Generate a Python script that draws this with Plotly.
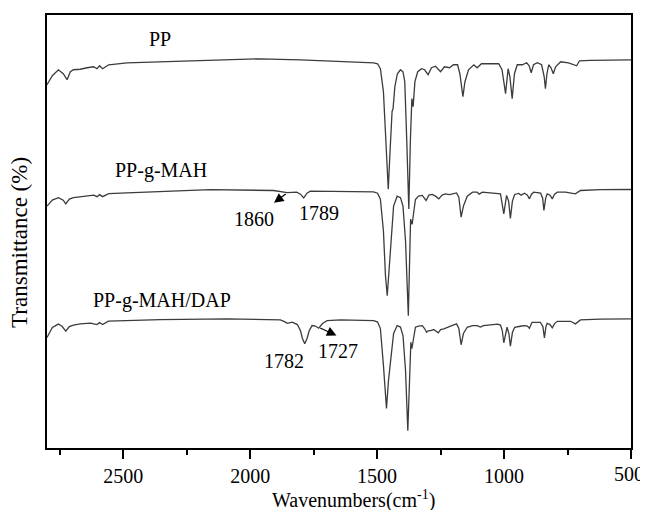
import plotly.graph_objects as go

# ---- data (x: wavenumber cm^-1, y: offset transmittance, arbitrary units) ----
pp_wn = [2800, 2779, 2755, 2736, 2721, 2708, 2696, 2669, 2642, 2616, 2603, 2593, 2581, 2557, 2485,
         2354, 2091, 1960, 1802, 1697, 1566, 1513, 1498, 1487, 1475, 1465, 1456, 1449, 1441, 1437,
         1430, 1420, 1408, 1398, 1391, 1383, 1375, 1369, 1363, 1358, 1351, 1340, 1325, 1313, 1299,
         1286, 1270, 1250, 1235, 1215, 1199, 1183, 1174, 1162, 1154, 1140, 1119, 1106, 1089, 1053,
         1021, 1008, 994, 984, 977, 968, 959, 948, 928, 911, 901, 893, 884, 869, 852, 842, 837, 831,
         824, 815, 806, 797, 777, 746, 726, 714, 703, 660, 500]
pp_t = [365, 374, 380, 376, 370, 378, 380, 380.5, 382, 383, 381, 384, 381, 385, 387,
        388, 390, 391, 390, 389, 387, 387, 386, 381, 358, 298, 260, 298, 338, 341,
        363, 376, 380, 378, 368, 308, 240, 308, 351, 343, 368, 378, 381, 380, 375,
        382, 383.5, 378, 383, 382, 385, 385, 376, 353, 368, 380, 385, 382, 386, 386,
        386, 380, 356, 381, 373, 351, 376, 385, 385, 387, 384, 377, 385, 387, 385, 373, 361, 376,
        385, 382, 376, 383, 388, 387, 385, 384, 389, 389.5, 390]

mah_wn = [2800, 2779, 2755, 2736, 2726, 2712, 2696, 2642, 2616, 2603, 2593, 2581, 2557, 2485, 2354,
          2157, 1908, 1854, 1817, 1802, 1789, 1776, 1763, 1644, 1514, 1498, 1487, 1475, 1467, 1460,
          1453, 1443, 1435, 1421, 1408, 1398, 1388, 1377, 1370, 1368, 1362, 1356, 1349, 1337, 1322,
          1307, 1296, 1283, 1270, 1257, 1244, 1231, 1215, 1187, 1178, 1169, 1160, 1145, 1124, 1106,
          1098, 1085, 1014, 1001, 990, 982, 975, 967, 958, 942, 933, 919, 908, 900, 892, 883, 856,
          848, 843, 836, 830, 819, 810, 801, 790, 758, 731, 719, 699, 621, 500]
mah_t = [243, 249, 251.5, 249, 245.3, 250, 251.5, 253, 254, 252.5, 254.5, 252.5, 255.5, 256.3, 257.5,
         259.5, 258.7, 256.5, 257, 255, 251.3, 256, 258, 257.7, 257.3, 256, 250, 218, 173, 153,
         178, 221.3, 243, 253, 251.5, 243, 208, 133, 198, 230, 224.7, 238, 249.7, 253, 253.7,
         248.7, 254, 254.7, 253, 250.3, 254, 255.3, 254.5, 256.3, 252, 232, 243, 253, 257, 257,
         255, 257, 255.3, 235.3, 253.7, 248, 230.7, 248, 254.7, 255.7, 254, 256, 254, 250.3, 255, 257, 256,
         251, 238.7, 251, 255.3, 254, 250.3, 255, 257, 257, 256, 255.3, 258.7, 259.5, 259.7]

dap_wn = [2800, 2779, 2755, 2740, 2726, 2712, 2696, 2669, 2629, 2603, 2593, 2581, 2558, 2484, 2354,
          2090, 1960, 1881, 1865, 1853, 1834, 1814, 1802, 1794, 1785, 1776, 1767, 1756, 1743, 1730,
          1715, 1697, 1644, 1566, 1513, 1498, 1487, 1475, 1463, 1455, 1443, 1435, 1421, 1408, 1398,
          1388, 1379, 1371, 1367, 1363, 1356, 1349, 1337, 1322, 1313, 1305, 1297, 1289, 1277, 1268,
          1259, 1250, 1237, 1211, 1187, 1178, 1169, 1160, 1145, 1124, 1106, 1093, 1081, 1053, 1026,
          1014, 1007, 1001, 994, 988, 981, 975, 967, 958, 936, 920, 908, 900, 890, 857, 847, 841, 835,
          830, 819, 810, 801, 790, 738, 719, 699, 621, 500]
dap_t = [111, 121, 124.5, 122, 117.3, 122, 123.5, 124.7, 125.5, 124, 126, 124, 127.5, 128, 129,
         129.7, 129.5, 128.7, 127, 125.3, 126.5, 124, 118, 110, 104.7, 110, 118, 123, 122.5, 120.3,
         125, 128, 128.7, 128.5, 128, 126.5, 120, 83, 39.7, 68, 98, 115, 123, 121.5, 113,
         78, 17.3, 78, 106.3, 99.7, 113, 121.3, 122.5, 123, 120, 116.3, 118, 118, 119, 117,
         115.7, 119, 119.7, 122.5, 124.7, 120, 103.7, 115, 121.3, 123, 123, 121.5, 123, 123.7, 124.5,
         123.5, 118, 105.7, 116, 121.3, 115, 102.3, 116, 121.3, 122.3, 123, 122.5, 120.3, 126.3, 126.3, 122, 110.7, 122,
         125.3, 124, 120.7, 125, 127.3, 127.3, 124.7, 128.7, 129.5, 129.7]

series_names = ["PP", "PP-g-MAH", "PP-g-MAH/DAP"]
name_pos_wn = [2354, 2350, 2347]
name_pos_t = [411, 279, 148.5]

peak_labels = ["1860", "1789", "1782", "1727"]
peak_label_wn = [1983, 1727, 1865, 1654]
peak_label_t = [230.5, 236, 87, 97]

# arrows: tail on the curve, head towards the label
arrow_tail_wn = [1854, 1730]
arrow_tail_t = [256.3, 121.3]
arrow_head_wn = [1906, 1660]
arrow_head_t = [246.3, 113]

x_ticks = [2500, 2000, 1500, 1000, 500]
x_tick_text = ["2500", "2000", "1500", "1000", "500"]
x_title = "Wavenumbers(cm<sup>-1</sup>)"
y_title = "Transmittance (%)"

FONT = "Liberation Serif, Times New Roman, serif"
LINE = "#3c3c3c"

fig = go.Figure()
for wn, t in [(pp_wn, pp_t), (mah_wn, mah_t), (dap_wn, dap_t)]:
    fig.add_trace(go.Scatter(x=wn, y=t, mode="lines",
                             line=dict(color=LINE, width=1.3), showlegend=False,
                             hoverinfo="skip"))

# the edge label (500) is drawn as an annotation so that it stays inside the page
edge_tick = x_ticks[-1]
axis_tick_text = [t if v != edge_tick else "" for v, t in zip(x_ticks, x_tick_text)]

anns = []
for name, x, y in zip(series_names, name_pos_wn, name_pos_t):
    anns.append(dict(x=x, y=y, xref="x", yref="y", text=name, showarrow=False,
                     font=dict(family=FONT, size=20, color="black")))
for lab, x, y in zip(peak_labels, peak_label_wn, peak_label_t):
    anns.append(dict(x=x, y=y, xref="x", yref="y", text=lab, showarrow=False,
                     font=dict(family=FONT, size=20, color="black")))
for tx, ty, hx, hy in zip(arrow_tail_wn, arrow_tail_t, arrow_head_wn, arrow_head_t):
    anns.append(dict(x=hx, y=hy, ax=tx, ay=ty, xref="x", yref="y", axref="x", ayref="y",
                     text="", showarrow=True, arrowhead=2, arrowsize=1.6, arrowwidth=1.2,
                     arrowcolor="black"))
anns.append(dict(x=edge_tick, y=-0.0598, xref="x", yref="paper",
                 text=x_tick_text[-1], showarrow=False, xanchor="center", yanchor="middle",
                 xshift=-2, font=dict(family=FONT, size=20, color="black")))
# axis titles (placed as annotations to match the reference's offsets)
anns.append(dict(x=0.524, y=-0.12, xref="paper", yref="paper", text=x_title, showarrow=False,
                 xanchor="center", yanchor="middle", font=dict(family=FONT, size=20, color="black")))
anns.append(dict(x=-0.046, y=0.474, xref="paper", yref="paper", text=y_title, showarrow=False,
                 textangle=-90, xanchor="center", yanchor="middle",
                 font=dict(family=FONT, size=23, color="black")))

# page keeps its default 8px body margin: figure is sized so the page does not overflow
fig.update_layout(
    width=640, height=502,
    margin=dict(l=39, r=17, t=5, b=62),
    paper_bgcolor="white", plot_bgcolor="white",
    font=dict(family=FONT, size=20, color="black"),
    annotations=anns,
    xaxis=dict(range=[2800, 500], tickvals=x_ticks, ticktext=axis_tick_text,
               ticks="outside", ticklen=9, tickwidth=1.5, tickcolor="black",
               minor=dict(dtick=250, tick0=500, ticks="outside", ticklen=5, tickwidth=1.5,
                          tickcolor="black", showgrid=False),
               showline=True, linecolor="black", linewidth=1.5, mirror=True,
               showgrid=False, zeroline=False,
               tickfont=dict(family=FONT, size=20)),
    yaxis=dict(range=[0, 435], showticklabels=False, ticks="",
               showline=True, linecolor="black", linewidth=1.5, mirror=True,
               showgrid=False, zeroline=False),
)

fig.write_html("out.html", config={"displayModeBar": False})
